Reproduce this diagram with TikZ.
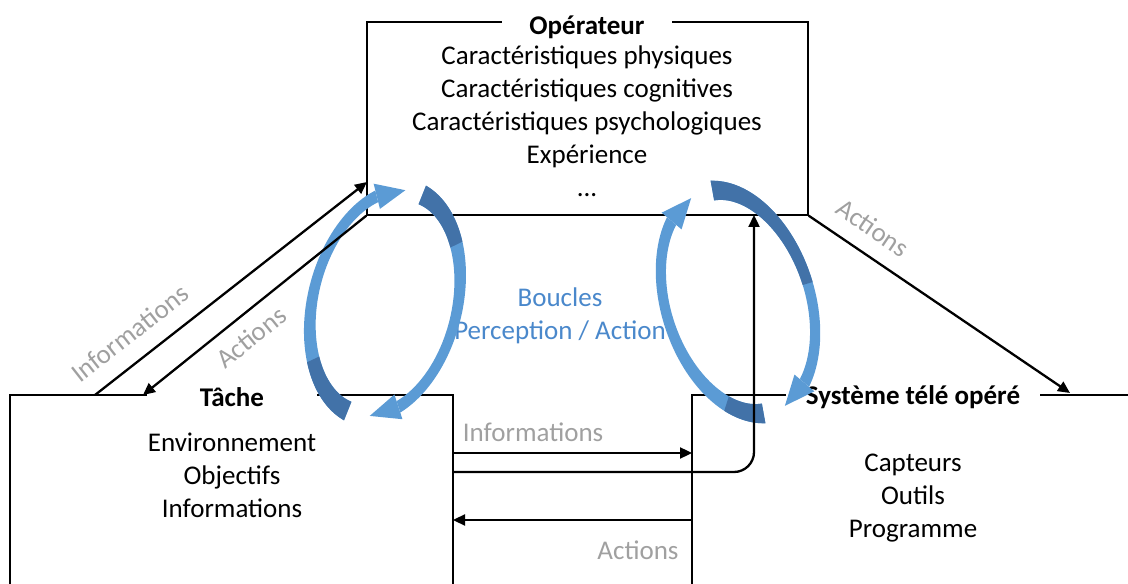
\documentclass[tikz,border=0pt]{standalone}
\usepackage{fontspec}
\setmainfont{Carlito}
\usetikzlibrary{arrows.meta,positioning,calc}

\definecolor{loopblue}{RGB}{91,155,213}
\definecolor{loopdark}{RGB}{66,114,168}
\definecolor{textblue}{RGB}{74,136,203}
\definecolor{labelgray}{RGB}{160,160,160}

% half width of a loop arrow along its length
\newcommand{\halfw}{(3+7*(1-\uu)^2+3*\uu^2)}
% body of a loop arrow between two angles of the ellipse
\newcommand{\loopbody}[4]{%
  plot[domain=#3:#4,samples=30,smooth,variable=\uu]
    ({(\loopa+\halfw)*cos(#1+(#2-#1)*\uu)},{(\loopb+\halfw)*sin(#1+(#2-#1)*\uu)})
  -- plot[domain=#4:#3,samples=30,smooth,variable=\uu]
    ({(\loopa-\halfw)*cos(#1+(#2-#1)*\uu)},{(\loopb-\halfw)*sin(#1+(#2-#1)*\uu)})
  -- cycle}
% head of a loop arrow
\newcommand{\loophead}[2]{%
  ({(\loopa+13)*cos(#1)},{(\loopb+13)*sin(#1)})
  -- ({(\loopa-13)*cos(#1)},{(\loopb-13)*sin(#1)})
  -- ({\loopa*cos(#2)},{\loopb*sin(#2)}) -- cycle}

\tikzset{
  box/.style={draw, line width=0.7pt},
  boxtitle/.style={fill=white, font=\fontsize{13.5}{16.5}\selectfont\bfseries, inner sep=1pt},
  boxtext/.style={align=center},
  link/.style={line width=1.15pt, -{Triangle[length=6pt,width=5.5pt]}},
  linkback/.style={line width=1.15pt, {Triangle[length=6pt,width=5.5pt]}-},
  linklabel/.style={text=labelgray}
}

\begin{document}
\begin{tikzpicture}[x=0.5pt, y=0.5pt, font=\fontsize{13.5}{16.5}\selectfont]
  \useasboundingbox (0,0) rectangle (1128,583);
  \clip (0,0) rectangle (1128,583);
  % Boxes
  \node[box, minimum width=220.5pt, minimum height=96.5pt] (op) at (587.5,464.5) {};
  \node[box, minimum width=221.5pt, minimum height=119pt] (task) at (231.5,69) {};
  \node[box, minimum width=254pt, minimum height=119pt] (sys) at (946,69) {};
  % Titles over the top lines
  \node[boxtitle, minimum width=85pt] (optitle) at (587,556) {Opérateur};
  \node[boxtitle, minimum width=85pt] (tasktitle) at (232,186) {Tâche};
  \node[boxtitle, minimum width=127pt] (systitle) at (913,186) {Système télé opéré};
  % Contents
  \node[boxtext] (optext) at (587,462) {Caractéristiques physiques\\Caractéristiques cognitives\\Caractéristiques psychologiques\\Expérience\\...};
  \node[boxtext] (tasktext) at (232,108) {Environnement\\Objectifs\\Informations};
  \node[boxtext] (systext) at (913,85) {Capteurs\\Outils\\Programme};
  \node[boxtext, text=textblue] (loops) at (560,267) {Boucles\\Perception / Action};

  % Left loop
  \begin{scope}[shift={(385,280)}, rotate=-14]
    \def\loopa{72}\def\loopb{115}
    \fill[loopblue] \loopbody{262}{118}{0}{1};
    \fill[loopdark] \loopbody{262}{118}{0}{0.3};
    \fill[loopblue] \loophead{118}{96};
    \fill[loopblue] \loopbody{82}{-58}{0}{1};
    \fill[loopdark] \loopbody{82}{-58}{0}{0.3};
    \fill[loopblue] \loophead{-58}{-80};
  \end{scope}
  % Right loop
  \begin{scope}[shift={(738,281)}, rotate=18]
    \def\loopa{72}\def\loopb{115}
    \fill[loopblue] \loopbody{262}{122}{0}{1};
    \fill[loopdark] \loopbody{262}{122}{0}{0.2};
    \fill[loopblue] \loophead{122}{100};
    \fill[loopblue] \loopbody{82}{-58}{0}{1};
    \fill[loopdark] \loopbody{82}{-58}{0}{0.6};
    \fill[loopblue] \loophead{-58}{-80};
  \end{scope}

  % Connectors
  \coordinate (taskInfo) at (95,188);
  \coordinate (opInfo) at (367,401);
  \coordinate (taskAct) at (143,188);
  \coordinate (sysAct) at (1070,190);
  \coordinate (taskOut) at (453,130);
  \coordinate (sysIn) at (692,130);
  \coordinate (taskFeed) at (453,111);
  \coordinate (opFeed) at (754,368);
  \coordinate (sysOut) at (692,63);
  \coordinate (taskIn) at (453,63);
  \draw[link] (taskInfo) -- node[linklabel, sloped, above=5pt, pos=0.19] {Informations} (opInfo);
  \draw[linkback] (taskAct) -- node[linklabel, sloped, below=2.7pt, pos=0.42] {Actions} (op.south west);
  \draw[link] (op.south east) -- node[linklabel, sloped, above=4.4pt, pos=0.19] {Actions} (sysAct);
  \draw[link] (taskOut) -- node[linklabel, above=1.5pt, pos=0.335] {Informations} (sysIn);
  \draw[link, rounded corners=10pt] (taskFeed) -- (opFeed |- taskFeed) -- (opFeed);
  \draw[link] (sysOut) -- node[linklabel, below=6.5pt, pos=0.226] {Actions} (taskIn);
\end{tikzpicture}
\end{document}
